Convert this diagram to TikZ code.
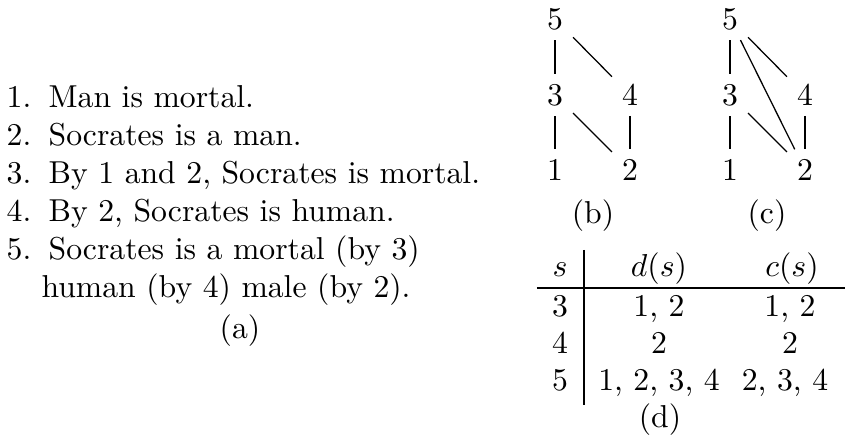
\documentclass[tikz,border=0pt]{standalone}
\begin{document}
\begin{tikzpicture}[x=0.3155pt,y=-0.3155pt,
  txt/.style={inner sep=0pt,anchor=base west},
  num/.style={inner sep=0pt,anchor=base east},
  lab/.style={inner sep=0pt,anchor=base},
  gnode/.style={inner sep=3pt},
  cell/.style={inner sep=0pt,anchor=base}]
\useasboundingbox (0,0) rectangle (845,442);
% (a) list
\node[num] (n1) at (32,108) {1.};
\node[txt] (t1) at (48,108) {Man is mortal.};
\node[num] (n2) at (32,146) {2.};
\node[txt] (t2) at (48,146) {Socrates is a man.};
\node[num] (n3) at (32,184) {3.};
\node[txt] (t3) at (48,184) {By 1 and 2, Socrates is mortal.};
\node[num] (n4) at (32,222) {4.};
\node[txt] (t4) at (48,222) {By 2, Socrates is human.};
\node[num] (n5) at (32,260) {5.};
\node[txt] (t5) at (48,260) {Socrates is a mortal (by 3)};
\node[txt] (t6) at (41,298) {human (by 4) male (by 2).};
\node[lab] (la) at (240,339) {(a)};
% (b) graph
\node[gnode] (b5) at (555,19) {5};
\node[gnode] (b3) at (555,95) {3};
\node[gnode] (b4) at (630,95) {4};
\node[gnode] (b1) at (555,170) {1};
\node[gnode] (b2) at (630,170) {2};
\draw (b5) -- (b3);
\draw (b5) -- (b4);
\draw (b3) -- (b1);
\draw (b3) -- (b2);
\draw (b4) -- (b2);
\node[lab] (lb) at (593,224) {(b)};
% (c) graph
\node[gnode] (c5) at (730,19) {5};
\node[gnode] (c3) at (730,95) {3};
\node[gnode] (c4) at (805,95) {4};
\node[gnode] (c1) at (730,170) {1};
\node[gnode] (c2) at (805,170) {2};
\draw (c5) -- (c3);
\draw (c5) -- (c4);
\draw (c5) -- (c2);
\draw (c3) -- (c1);
\draw (c3) -- (c2);
\draw (c4) -- (c2);
\node[lab] (lc) at (767,224) {(c)};
% (d) table
\node[cell] (hs) at (560,277) {$s$};
\node[cell] (hd) at (659,277) {$d(s)$};
\node[cell] (hc) at (792,277) {$c(s)$};
\node[cell] (r3s) at (560,317) {3};
\node[cell] (r3d) at (659,317) {1, 2};
\node[cell] (r3c) at (790,317) {1, 2};
\node[cell] (r4s) at (560,354) {4};
\node[cell] (r4d) at (659,354) {2};
\node[cell] (r4c) at (790,354) {2};
\node[cell] (r5s) at (560,391) {5};
\node[cell] (r5d) at (659,391) {1, 2, 3, 4};
\node[cell] (r5c) at (785,391) {2, 3, 4};
\draw (584,250) -- (584,405);
\draw (537,288) -- (845,288);
\node[lab] (ld) at (660,428) {(d)};
\end{tikzpicture}
\end{document}
